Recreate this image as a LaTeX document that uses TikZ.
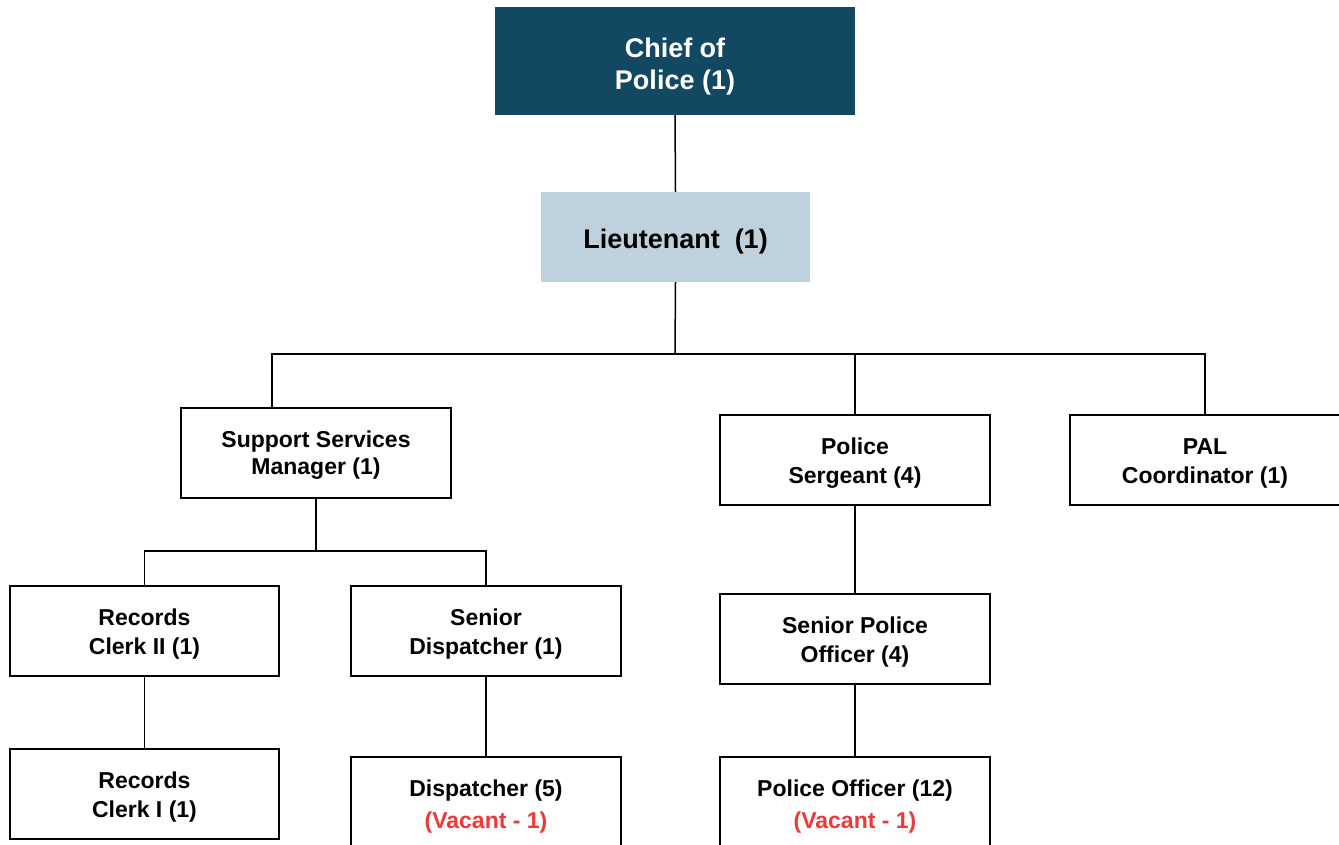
\documentclass[tikz,border=0pt]{standalone}
\usepackage{fontspec}
\setmainfont{Liberation Sans}
\definecolor{chiefblue}{RGB}{18,72,98}
\definecolor{ltblue}{RGB}{191,209,220}
\definecolor{vacred}{RGB}{240,56,56}
\newcommand\dnstrut{\rule{0pt}{23.5pt}}
\newcommand\topstrut{\rule{0pt}{31.5pt}}
\begin{document}
\begin{tikzpicture}[x=1pt,y=-1pt,
  box/.style={draw=black,line width=1.4pt,fill=white,inner sep=0pt,minimum width=270pt,minimum height=90pt,align=center,font=\fontsize{23}{29}\selectfont\bfseries},
  topbox/.style={inner sep=0pt,align=center,font=\fontsize{27}{32}\selectfont\bfseries},
  conn/.style={draw=black,line width=1.5pt}]
\useasboundingbox (0,0) rectangle (1339,844);
\fill[white] (0,0) rectangle (1339,844);
\node[topbox,fill=chiefblue,text=white,minimum width=360pt,minimum height=108pt] (chief) at (675,61) {\topstrut Chief of\\Police (1)};
\node[topbox,fill=ltblue,text=black,minimum width=269pt,minimum height=90pt] (lt) at (675.5,237) {\rule{0pt}{29.5pt}Lieutenant\ \ (1)};
\node[box] (ssm) at (316,453) {\rule{0pt}{20pt}Support Services\\[-2pt]Manager (1)};
\node[box] (sgt) at (855,460) {\dnstrut Police\\Sergeant (4)};
\node[box] (pal) at (1205,460) {\dnstrut PAL\\Coordinator (1)};
\node[box,minimum width=269pt] (rc2) at (144.5,631) {\dnstrut Records\\Clerk II (1)};
\node[box] (sd) at (486,631) {\dnstrut Senior\\Dispatcher (1)};
\node[box,minimum width=269pt] (rc1) at (144.5,794) {\dnstrut Records\\Clerk I (1)};
\node[box,minimum height=100pt] (disp) at (486,807) {Dispatcher (5)\\[3pt]\textcolor{vacred}{(Vacant - 1)}};
\node[box] (spo) at (855,639) {\dnstrut Senior Police\\Officer (4)};
\node[box,minimum height=100pt] (po) at (855,807) {Police Officer (12)\\[3pt]\textcolor{vacred}{(Vacant - 1)}};
\coordinate (b1) at (675,354);
\coordinate (b2) at (316,551);
\draw[conn] (chief.south) -- (lt.north);
\draw[conn] (lt.south) -- (b1);
\draw[conn] ([xshift=-44pt]ssm.north) |- (b1) -| (pal.north);
\draw[conn] (b1) -| (sgt.north);
\draw[conn] (ssm.south) -- (b2);
\draw[conn] (rc2.north) |- (b2) -| (sd.north);
\draw[conn] (rc2.south) -- (rc1.north);
\draw[conn] (sd.south) -- (disp.north);
\draw[conn] (sgt.south) -- (spo.north);
\draw[conn] (spo.south) -- (po.north);
\end{tikzpicture}
\end{document}
